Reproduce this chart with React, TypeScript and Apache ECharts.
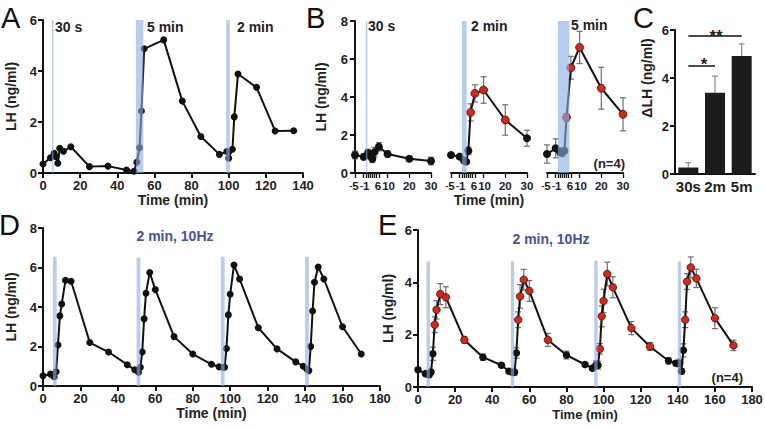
import React, { useEffect, useRef } from 'react';
import * as echarts from 'echarts';

const FONT = '"Liberation Sans", Arial, sans-serif';

// ---------- Panel A ----------
const aTime = [0, 4, 6, 7, 8, 9, 11, 15, 25, 35, 45, 49, 50.5, 52, 53, 54.5, 65, 75, 85, 95, 99, 100, 102, 103, 105, 115, 125, 135];
const aLH = [0.35, 0.6, 0.77, 0.64, 0.38, 0.97, 0.85, 1.03, 0.25, 0.27, 0.12, 0.07, 0.42, 0.99, 2.43, 4.87, 5.22, 2.82, 1.43, 0.73, 0.84, 0.58, 0.93, 2.2, 3.88, 3.36, 1.65, 1.66];
const aBands: [number, number, number][] = [[4.8, 5.4, 6], [50, 54, 6], [98.6, 100.6, 6]];

// ---------- Panel B ----------
const bTicks = [-5, -1, 0, 1, 2, 3, 4, 5, 6, 10, 20, 30];
const bLabels = [-5, -1, 6, 10, 20, 30];
const b1Time = [-5, -1, 1, 2, 3, 4, 6, 10, 20, 30];
const b1LH = [0.95, 0.85, 1.05, 0.9, 0.75, 1.1, 1.38, 1.0, 0.75, 0.63];
const b1Err = [0.2, 0.15, 0.2, 0.15, 0.2, 0.25, 0.22, 0.15, 0.12, 0.2];
const b2Time = [-5, -1, 1, 2, 3, 4, 6, 10, 20, 30];
const b2LH = [0.95, 0.86, 0.65, 0.6, 1.17, 3.19, 4.19, 4.37, 2.79, 1.83];
const b2Err = [0.1, 0.12, 0.1, 0.1, 0.2, 0.45, 0.45, 0.7, 0.8, 0.42];
const b2Red = [4, 6, 10, 20];
const b3Time = [-5, -1, 1, 2, 3, 4, 6, 10, 20, 30];
const b3LH = [1.0, 1.3, 1.12, 1.07, 1.17, 2.93, 5.54, 6.61, 4.46, 3.09];
const b3Err = [0.48, 0.5, 0.2, 0.2, 0.15, 0.2, 0.6, 0.85, 1.1, 0.87];
const b3Red = [4, 6, 10, 20, 30];

// ---------- Panel C ----------
const cCats = ['30s', '2m', '5m'];
const cVal = [0.27, 3.39, 4.92];
const cErr = [0.2, 0.69, 0.5];

// ---------- Panel D ----------
const dTime = [0, 4, 6, 7, 8, 9, 10, 12, 15, 25, 35, 45, 49, 51, 52, 53, 54, 55, 57, 60, 70, 80, 90, 94, 96, 97, 98, 99, 100, 102, 105, 115, 125, 135, 139, 141, 142, 143, 144, 145, 147, 150, 160, 170];
const dLH = [0.52, 0.6, 0.47, 0.72, 2.08, 3.55, 4.15, 5.35, 5.3, 2.2, 1.72, 1.08, 0.82, 0.7, 0.95, 1.72, 3.4, 4.7, 5.75, 4.88, 2.5, 1.62, 1.1, 0.97, 0.95, 0.95, 1.9, 3.6, 4.65, 6.13, 5.42, 2.95, 1.88, 1.22, 1.0, 0.85, 0.78, 2.0, 3.8, 5.25, 6.02, 5.42, 3.0, 1.62];
const dBands: [number, number, number][] = [[5.3, 7.3, 6.55], [50, 52, 6.5], [95, 97, 6.55], [140, 142, 6.55]];

// ---------- Panel E ----------
const eTime = [0, 4, 6, 7, 8, 9, 10, 12, 15, 25, 35, 45, 49, 51, 52, 53, 54, 55, 57, 60, 70, 80, 90, 94, 96, 97, 98, 99, 100, 102, 105, 115, 125, 135, 139, 141, 142, 143, 144, 145, 147, 150, 160, 170];
const eLH = [0.66, 0.51, 0.47, 0.57, 1.27, 2.38, 2.95, 3.55, 3.43, 1.8, 1.14, 0.83, 0.6, 0.56, 0.56, 1.3, 2.57, 3.46, 4.1, 3.67, 1.8, 1.22, 0.86, 0.72, 0.85, 0.83, 1.46, 2.7, 3.29, 4.32, 3.81, 2.25, 1.55, 1.0, 0.91, 0.91, 0.6, 1.4, 2.57, 4.03, 4.57, 4.15, 2.63, 1.59];
const eErr = [0.08, 0.06, 0.1, 0.1, 0.25, 0.3, 0.35, 0.4, 0.4, 0.12, 0.12, 0.08, 0.08, 0.1, 0.1, 0.2, 0.3, 0.45, 0.4, 0.4, 0.25, 0.15, 0.08, 0.08, 0.15, 0.15, 0.2, 0.4, 0.45, 0.45, 0.4, 0.25, 0.15, 0.12, 0.1, 0.15, 0.1, 0.25, 0.3, 0.3, 0.4, 0.35, 0.4, 0.2];
const eRed = [9, 10, 12, 15, 25, 54, 55, 57, 60, 70, 98, 99, 100, 102, 105, 115, 125, 144, 145, 147, 150, 160, 170];
const eBands: [number, number, number][] = [[4.6, 6.4, 4.8], [50, 51.8, 4.8], [95, 96.8, 4.82], [140, 141.8, 4.8]];

const RED = '#cf2a1e';
const BAND = 'rgba(140,172,226,0.62)';
const ERR = '#6e6e6e';

const axisLineStyle = { show: true, onZero: false, lineStyle: { color: '#111', width: 2 } };
const tickStyle = { show: true, length: 5, lineStyle: { color: '#111', width: 2 } };
const lbl = (extra: any = {}) => ({ color: '#222', fontFamily: FONT, fontWeight: 'bold', fontSize: 13, margin: 6, ...extra });
const nameStyle = { color: '#222', fontFamily: FONT, fontWeight: 'bold', fontSize: 14 };

function valAxis(gi: number, min: number, max: number, interval: number, extra: any = {}) {
  return {
    gridIndex: gi, type: 'value', min, max, interval,
    axisLine: axisLineStyle, axisTick: tickStyle, axisLabel: lbl(), splitLine: { show: false },
    nameTextStyle: nameStyle, ...extra,
  };
}

const bFs = 11.5;
const rs = (extra: any = {}) => ({ fontFamily: FONT, fontWeight: 'bold', fontSize: bFs, color: '#222', ...extra });
const bRich = {
  n: rs(),
  nl: rs({ padding: [0, 2, 0, 0] }),
  nr: rs({ padding: [0, 0, 0, 2] }),
  dl: rs({ fontSize: 9, verticalAlign: 'middle' }),
  dr: rs({ fontSize: 9, verticalAlign: 'middle', padding: [0, 0, 0, 2] }),
};
function bFormatter(v: number) {
  if (v === -5) return '{dl|-}{nl|5}';
  if (v === -1) return '{dr|-}{n|1}';
  if (v === 6) return '{nl|6}';
  if (v === 10) return '{nr|10}';
  return `{n|${v}}`;
}

function bXAxis(gi: number, extra: any = {}) {
  return {
    gridIndex: gi, type: 'value', min: -5, max: 30,
    axisLine: axisLineStyle,
    axisTick: { show: true, length: 5, lineStyle: { color: '#111', width: 1.3 }, customValues: bTicks },
    axisLabel: {
      ...lbl({ fontSize: bFs, margin: 7 }), customValues: bLabels, hideOverlap: false,
      showMinLabel: true, showMaxLabel: true, formatter: bFormatter, rich: bRich,
    },
    splitLine: { show: false }, nameTextStyle: nameStyle, ...extra,
  };
}

function lineSeries(gi: number, t: number[], v: number[], red: number[] = [], size = 7) {
  return {
    type: 'line', xAxisIndex: gi, yAxisIndex: gi, z: 2, silent: true,
    symbol: 'circle', symbolSize: size, showSymbol: true, showAllSymbol: true,
    lineStyle: { color: '#111', width: 2 },
    itemStyle: { color: '#111' },
    data: t.map((x, i) => ({
      value: [x, v[i]],
      itemStyle: red.includes(x) ? { color: RED, borderColor: '#4a0b06', borderWidth: 0.8 } : { color: '#111' },
    })),
  };
}

function bandSeries(gi: number, bands: [number, number, number][]) {
  return {
    type: 'custom', xAxisIndex: gi, yAxisIndex: gi, z: 5, silent: true,
    data: bands,
    encode: { x: [0, 1], y: 2 },
    renderItem: (_p: any, api: any) => {
      const p0 = api.coord([api.value(0), api.value(2)]);
      const p1 = api.coord([api.value(1), 0]);
      return {
        type: 'rect',
        shape: { x: p0[0], y: p0[1], width: Math.max(p1[0] - p0[0], 1.5), height: p1[1] - p0[1] },
        style: { fill: BAND },
      };
    },
  };
}

function errSeries(gi: number, t: any[], v: number[], e: number[], upOnly = false, color = ERR) {
  return {
    type: 'custom', xAxisIndex: gi, yAxisIndex: gi, z: 1, silent: true,
    data: t.map((x, i) => [x, v[i], e[i]]),
    renderItem: (_p: any, api: any) => {
      const x = api.value(0), y = api.value(1), er = api.value(2);
      const top = api.coord([x, y + er]);
      const bot = api.coord([x, upOnly ? y : y - er]);
      const hw = 3;
      const st = { stroke: color, lineWidth: 1.2 };
      const children: any[] = [
        { type: 'line', shape: { x1: top[0], y1: top[1], x2: bot[0], y2: bot[1] }, style: st },
        { type: 'line', shape: { x1: top[0] - hw, y1: top[1], x2: top[0] + hw, y2: top[1] }, style: st },
      ];
      if (!upOnly) children.push({ type: 'line', shape: { x1: bot[0] - hw, y1: bot[1], x2: bot[0] + hw, y2: bot[1] }, style: st });
      return { type: 'group', children };
    },
  };
}

function txt(text: string, x: number, y: number, extra: any = {}) {
  return {
    type: 'text', x, y, silent: true,
    style: { text, fill: '#222', font: `bold 14px ${FONT}`, align: 'left', verticalAlign: 'middle', ...extra },
  };
}

export default function App() {
  const ref = useRef<HTMLDivElement>(null);
  useEffect(() => {
    if (!ref.current) return;
    const chart = echarts.init(ref.current, null, { renderer: 'svg' });
    const gridBase = { outerBoundsMode: 'none', containLabel: false };
    const option: any = {
      animation: false,
      backgroundColor: '#fff',
      grid: [
        { ...gridBase, left: 43, top: 20, width: 260, height: 153 },
        { ...gridBase, left: 355, top: 21, width: 76, height: 152 },
        { ...gridBase, left: 451, top: 21, width: 76, height: 152 },
        { ...gridBase, left: 547, top: 21, width: 76, height: 152 },
        { ...gridBase, left: 675, top: 30, width: 80, height: 144 },
        { ...gridBase, left: 43, top: 228, width: 337, height: 158 },
        { ...gridBase, left: 418, top: 230, width: 334, height: 157 },
      ],
      xAxis: [
        valAxis(0, 0, 140, 20, { name: 'Time (min)', nameLocation: 'middle', nameGap: 19 }),
        bXAxis(1),
        bXAxis(2, { name: 'Time (min)', nameLocation: 'middle', nameGap: 19 }),
        bXAxis(3),
        {
          gridIndex: 4, type: 'category', data: cCats,
          axisLine: axisLineStyle, axisTick: { show: false },
          axisLabel: lbl({ fontSize: 15, margin: 5, interval: 0, hideOverlap: false }),
        },
        valAxis(5, 0, 180, 20, { name: 'Time (min)', nameLocation: 'middle', nameGap: 20 }),
        valAxis(6, 0, 180, 20, { name: 'Time (min)', nameLocation: 'middle', nameGap: 21, nameTextStyle: { ...nameStyle, fontSize: 13 } }),
      ],
      yAxis: [
        valAxis(0, 0, 6, 2, { name: 'LH (ng/ml)', nameLocation: 'middle', nameGap: 25 }),
        valAxis(1, 0, 8, 2, { name: 'LH (ng/ml)', nameLocation: 'middle', nameGap: 27, axisLabel: lbl({ margin: 7 }) }),
        { gridIndex: 2, type: 'value', min: 0, max: 8, show: false },
        { gridIndex: 3, type: 'value', min: 0, max: 8, show: false },
        valAxis(4, 0, 6, 2),
        valAxis(5, 0, 8, 2, { name: 'LH (ng/ml)', nameLocation: 'middle', nameGap: 25 }),
        valAxis(6, 0, 6, 2, { name: 'LH (ng/ml)', nameLocation: 'middle', nameGap: 23 }),
      ],
      series: [
        // A
        lineSeries(0, aTime, aLH),
        bandSeries(0, aBands),
        // B
        errSeries(1, b1Time, b1LH, b1Err),
        lineSeries(1, b1Time, b1LH, [], 8),
        bandSeries(1, [[0, 0.5, 8]]),
        errSeries(2, b2Time, b2LH, b2Err),
        lineSeries(2, b2Time, b2LH, b2Red, 8),
        bandSeries(2, [[0, 2.2, 8]]),
        errSeries(3, b3Time, b3LH, b3Err),
        lineSeries(3, b3Time, b3LH, b3Red, 8),
        bandSeries(3, [[0, 5.3, 8]]),
        // C
        {
          type: 'bar', xAxisIndex: 4, yAxisIndex: 4, z: 2, silent: true,
          data: cVal, barWidth: 20, itemStyle: { color: '#1c1c1c' },
          markLine: {
            silent: true, symbol: 'none',
            lineStyle: { color: '#111', width: 1.5, type: 'solid' },
            label: { show: false },
            data: [
              [{ coord: ['30s', 5.75] }, { coord: ['5m', 5.75] }],
              [{ coord: ['30s', 4.5] }, { coord: ['2m', 4.5] }],
            ],
          },
        },
        errSeries(4, cCats, cVal, cErr, true, '#8a8a8a'),
        // D
        lineSeries(5, dTime, dLH),
        bandSeries(5, dBands),
        // E
        errSeries(6, eTime, eLH, eErr),
        lineSeries(6, eTime, eLH, eRed, 7.5),
        bandSeries(6, eBands),
      ],
      graphic: [
        txt('A', 1, 18, { font: `29px ${FONT}`, fill: '#111' }),
        txt('B', 306, 18, { font: `29px ${FONT}`, fill: '#111' }),
        txt('C', 633, 18, { font: `29px ${FONT}`, fill: '#111' }),
        txt('D', -1, 225, { font: `29px ${FONT}`, fill: '#111' }),
        txt('E', 378, 225, { font: `29px ${FONT}`, fill: '#111' }),
        txt('30 s', 55, 27),
        txt('5 min', 147, 27),
        txt('2 min', 237, 27),
        txt('30 s', 368, 26),
        txt('2 min', 471, 26),
        txt('5 min', 571, 25),
        txt('(n=4)', 625, 163, { align: 'right', font: `bold 13px ${FONT}` }),
        txt('2 min, 10Hz', 175, 236, { align: 'center', fill: '#4b4f9e' }),
        txt('2 min, 10Hz', 551, 239, { align: 'center', fill: '#4b4f9e' }),
        txt('(n=4)', 743, 377, { align: 'right', font: `bold 13px ${FONT}` }),
        txt('**', 716, 36, { align: 'center', font: `bold 17px ${FONT}` }),
        txt('*', 704, 64, { align: 'center', font: `bold 17px ${FONT}` }),
        {
          type: 'text', x: 647, y: 78, rotation: Math.PI / 2, silent: true,
          style: { text: 'ΔLH (ng/ml)', fill: '#222', font: `bold 14px ${FONT}`, align: 'center', verticalAlign: 'middle' },
        },
      ],
    };
    chart.setOption(option);
    return () => chart.dispose();
  }, []);
  return <div ref={ref} style={{ position: 'absolute', left: 0, top: 0, width: 765, height: 427 }} />;
}
